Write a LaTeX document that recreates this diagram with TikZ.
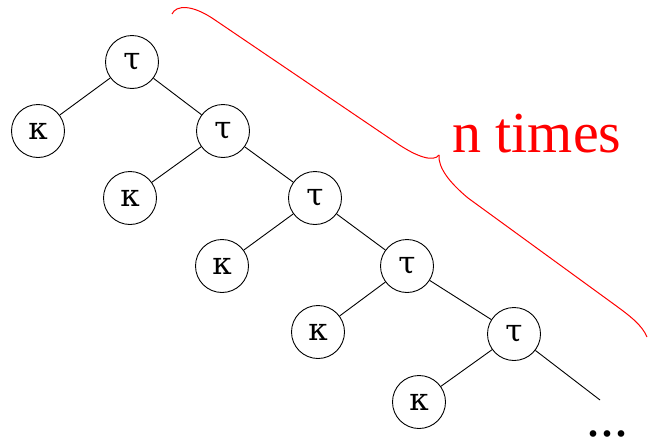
\documentclass[tikz,border=0pt]{standalone}
\usepackage{fontspec}
\setmainfont{Liberation Serif}
\newfontfamily\greekfont{DejaVu Serif}
\begin{document}
\begin{tikzpicture}[x=1pt,y=-1pt,
  tnode/.style={circle,draw,line width=0.9pt,minimum size=53pt,inner sep=0pt,font=\greekfont\fontsize{31}{31}\selectfont},
  edge/.style={line width=0.9pt},
  bracepath/.style={red,line width=1pt}]
\useasboundingbox (0,0) rectangle (648,442);
\node[tnode] (t1) at (132,62) {τ};
\node[tnode] (t2) at (223,131) {τ};
\node[tnode] (t3) at (315,198) {τ};
\node[tnode] (t4) at (407,266) {τ};
\node[tnode] (t5) at (514,334) {τ};
\node[tnode] (k1) at (38,131) {κ};
\node[tnode] (k2) at (130,198) {κ};
\node[tnode] (k3) at (222,266) {κ};
\node[tnode] (k4) at (318,332) {κ};
\node[tnode] (k5) at (419,402) {κ};
\coordinate (e) at (600,400);
\draw[edge] (t1) -- (k1);
\draw[edge] (t1) -- (t2);
\draw[edge] (t2) -- (k2);
\draw[edge] (t2) -- (t3);
\draw[edge] (t3) -- (k3);
\draw[edge] (t3) -- (t4);
\draw[edge] (t4) -- (k4);
\draw[edge] (t4) -- (t5);
\draw[edge] (t5) -- (k5);
\draw[edge] (t5) -- (e);
\node[anchor=base,inner sep=0pt,text height=6pt,text depth=0pt,font=\fontsize{56}{56}\selectfont] (dots) at (607,436.5) {...};
\draw[bracepath] (172,14) .. controls (176,5) and (192,4) .. (215,20)
  -- (395,142) .. controls (418,158) and (434,162) .. (439,155);
\draw[bracepath] (439,155) .. controls (438,168) and (450,183) .. (468,198)
  -- (615,305) .. controls (630,316) and (642,325) .. (647,337);
\node[anchor=base west,inner sep=0pt,red,font=\fontsize{58}{58}\selectfont] (lbl) at (452,152) {n times};
\end{tikzpicture}
\end{document}
